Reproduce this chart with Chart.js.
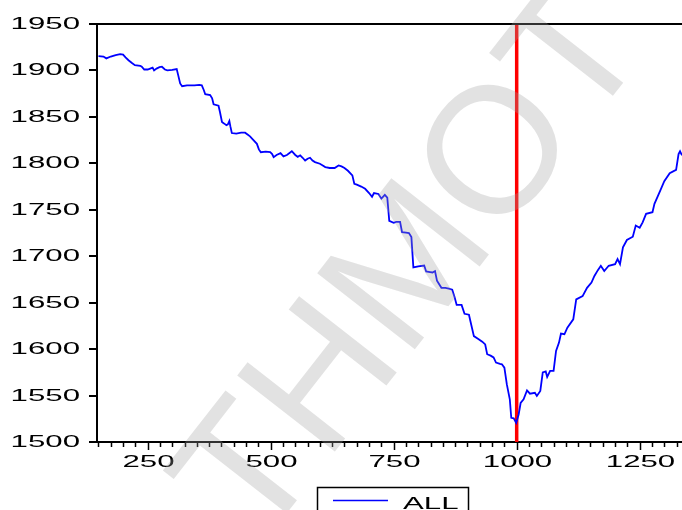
<!DOCTYPE html>
<html>
<head>
<meta charset="utf-8">
<script src="https://cdn.jsdelivr.net/npm/chart.js@4/dist/chart.umd.min.js"></script>
<style>
  body { margin: 0; background: #fff; }
  #wrap { width: 682px; height: 510px; }
</style>
</head>
<body>
<div id="wrap"><canvas id="chart" width="682" height="510"></canvas></div>
<script>
var obsIndex = [
	150, 160, 166, 175, 185, 194, 200, 205, 211, 218, 224, 235, 238, 243, 250, 255, 260, 263, 268, 274,
	279, 285, 290, 300, 309, 312, 316, 320, 330, 345, 355, 360, 364, 367, 377, 381, 384, 394, 397, 401,
	405, 410, 413, 416, 418, 421, 430, 440, 448, 453, 458, 465, 472, 476, 480, 490, 499, 503, 506, 512,
	520, 526, 533, 543, 550, 555, 560, 565, 570, 575, 580, 585, 590, 600, 605, 611, 620, 630, 638, 644,
	650, 657, 666, 670, 675, 684, 692, 700, 706, 710, 719, 725, 732, 737, 741, 750, 755, 763, 767, 775,
	781, 786, 790, 800, 812, 816, 824, 829, 834, 838, 847, 855, 862, 869, 874, 878, 888, 894, 903, 906,
	913, 922, 930, 936, 940, 947, 953, 958, 966, 970, 975, 980, 986, 989, 994, 999, 1004, 1008, 1014, 1021,
	1027, 1037, 1041, 1048, 1053, 1059, 1062, 1068, 1075, 1080, 1086, 1090, 1097, 1103, 1115, 1121, 1134, 1143, 1152, 1158,
	1165, 1171, 1178, 1187, 1200, 1205, 1210, 1216, 1224, 1236, 1242, 1250, 1256, 1263, 1276, 1280, 1292, 1300, 1311, 1324,
	1329, 1332, 1336
];
var allValues = [
	1915.5, 1915, 1913, 1915, 1916.5, 1917.6, 1917, 1914, 1911, 1908, 1905.7, 1905, 1904, 1901, 1901, 1902, 1903, 1900, 1902, 1903.5,
	1904, 1901, 1900, 1900.5, 1901.5, 1895, 1886, 1883, 1884, 1884, 1884.5, 1884, 1879, 1874.4, 1873.5, 1870, 1863.6, 1862, 1855, 1844.5,
	1843, 1841, 1842, 1845.6, 1840, 1832.6, 1832, 1833, 1833, 1831, 1829, 1825, 1821, 1815, 1812, 1812.5, 1812, 1810, 1806.7, 1809,
	1811, 1807.5, 1809, 1813, 1809, 1807, 1808.6, 1806, 1803, 1805, 1806, 1803, 1801.3, 1799.6, 1798, 1796, 1795, 1795, 1797.7, 1796.7,
	1795, 1792, 1787, 1778, 1777, 1775, 1772.6, 1768, 1764, 1768, 1767, 1762, 1766, 1763, 1738, 1736, 1737, 1737, 1726, 1725.5,
	1725, 1720.6, 1688, 1689, 1690, 1683.6, 1683, 1682.5, 1684, 1673.6, 1666, 1666, 1665, 1664, 1655.6, 1647.6, 1647.6, 1638, 1637, 1630,
	1614, 1611, 1608, 1605, 1594.5, 1593, 1591, 1585.5, 1584, 1583.7, 1580, 1562, 1546, 1526, 1525.5, 1520.6, 1529.6, 1542, 1546, 1555.5,
	1552, 1553, 1549.6, 1555, 1575, 1576, 1570, 1576.5, 1576.5, 1598, 1607, 1616.7, 1616, 1623, 1632, 1653.6, 1657, 1666, 1671.7, 1678.8,
	1685, 1689.7, 1684, 1689.7, 1691.5, 1697, 1691.5, 1709.5, 1717.5, 1721, 1733, 1730.6, 1736.5, 1745.6, 1747.4, 1756.4, 1770.8, 1780.8, 1789.4, 1793,
	1810, 1813, 1808.6
];

// vertical marker
var markerIndex = [1000, 1000];
var markerValues = [1500, 1950];

// axis settings
var xMin = 147, xMax = 1336, xMinorStep = 25, xMajorStep = 250;
var yMin = 1500, yMax = 1950, yStep = 50;

var seriesLabel = "ALL";
var watermarkText = "THMOT";

var FONT = '16px "Liberation Sans", Arial, sans-serif';
var STRETCH = 1.95;

function toPoints(xs, ys) {
	var pts = [];
	for (var i = 0; i < xs.length; i++) pts.push({ x: xs[i], y: ys[i] });
	return pts;
}

// draws text widened the way the original renderer does
function wideText(ctx, text, x, y, align) {
	ctx.save();
	ctx.font = FONT;
	var w = ctx.measureText(text).width * STRETCH;
	var left = x;
	if (align === 'center') left = x - w / 2;
	if (align === 'right') left = x - w;
	ctx.translate(left, y);
	ctx.scale(STRETCH, 1);
	ctx.textAlign = 'left';
	ctx.fillText(text, 0, 0);
	ctx.restore();
}

var decor = {
	id: 'decor',
	afterDraw: function (chart) {
		var ctx = chart.ctx;
		var area = chart.chartArea;
		var xs = chart.scales.x, ys = chart.scales.y;

		ctx.save();
		ctx.strokeStyle = '#000';
		ctx.fillStyle = '#000';

		// top frame line
		ctx.lineWidth = 2;
		ctx.beginPath();
		ctx.moveTo(area.left - 1, area.top);
		ctx.lineTo(area.right, area.top);
		ctx.stroke();

		// x ticks
		ctx.lineWidth = 1.5;
		ctx.textBaseline = 'alphabetic';
		xs.ticks.forEach(function (t) {
			if (t.value % xMinorStep !== 0) return;
			var px = Math.round(xs.getPixelForValue(t.value)) + 0.5;
			var major = t.value % xMajorStep === 0;
			ctx.beginPath();
			ctx.moveTo(px, area.bottom);
			ctx.lineTo(px, area.bottom + (major ? 8 : 5));
			ctx.stroke();
			if (major) wideText(ctx, String(t.value), px, 467, 'center');
		});

		// y ticks
		ctx.textBaseline = 'middle';
		ys.ticks.forEach(function (t) {
			var py = Math.round(ys.getPixelForValue(t.value));
			ctx.lineWidth = 2;
			ctx.beginPath();
			ctx.moveTo(area.left - 8, py);
			ctx.lineTo(area.left, py);
			ctx.stroke();
			wideText(ctx, String(t.value), 80, py + 1, 'right');
		});

		// legend box
		var ds = chart.data.datasets[0];
		ctx.lineWidth = 1.5;
		ctx.strokeRect(317.5, 487.5, 151, 40);
		ctx.strokeStyle = ds.borderColor;
		ctx.lineWidth = 1.5;
		ctx.beginPath();
		ctx.moveTo(333, 500.5);
		ctx.lineTo(388, 500.5);
		ctx.stroke();
		ctx.fillStyle = '#000';
		ctx.textBaseline = 'alphabetic';
		wideText(ctx, ds.label, 403, 509, 'left');

		// watermark
		ctx.font = '180px "Liberation Sans", Arial, sans-serif';
		ctx.fillStyle = 'rgba(160,160,160,0.3)';
		ctx.translate(258, 550);
		ctx.rotate(-52 * Math.PI / 180);
		ctx.textAlign = 'left';
		ctx.textBaseline = 'alphabetic';
		ctx.fillText(watermarkText, 0, 0);
		ctx.restore();
	}
};

new Chart(document.getElementById('chart'), {
	type: 'line',
	data: {
		datasets: [{
			label: seriesLabel,
			data: toPoints(obsIndex, allValues),
			borderColor: '#0000ff',
			borderWidth: 1.8,
			pointRadius: 0,
			tension: 0
		}, {
			label: 'marker',
			data: toPoints(markerIndex, markerValues),
			borderColor: '#ff0000',
			borderWidth: 3.5,
			pointRadius: 0
		}]
	},
	options: {
		responsive: false,
		animation: false,
		layout: { padding: { top: 24, right: 0, left: 0, bottom: 0 } },
		plugins: {
			legend: { display: false },
			tooltip: { enabled: false }
		},
		scales: {
			x: {
				type: 'linear',
				min: xMin,
				max: xMax,
				ticks: { display: false, stepSize: xMinorStep, includeBounds: false, autoSkip: false },
				grid: { display: false },
				border: { display: true, color: '#000', width: 2 },
				afterFit: function (scale) { scale.height = 68; }
			},
			y: {
				min: yMin,
				max: yMax,
				ticks: { display: false, stepSize: yStep },
				grid: { display: false },
				border: { display: true, color: '#000', width: 2 },
				afterFit: function (scale) { scale.width = 97; }
			}
		}
	},
	plugins: [decor]
});
</script>
</body>
</html>
